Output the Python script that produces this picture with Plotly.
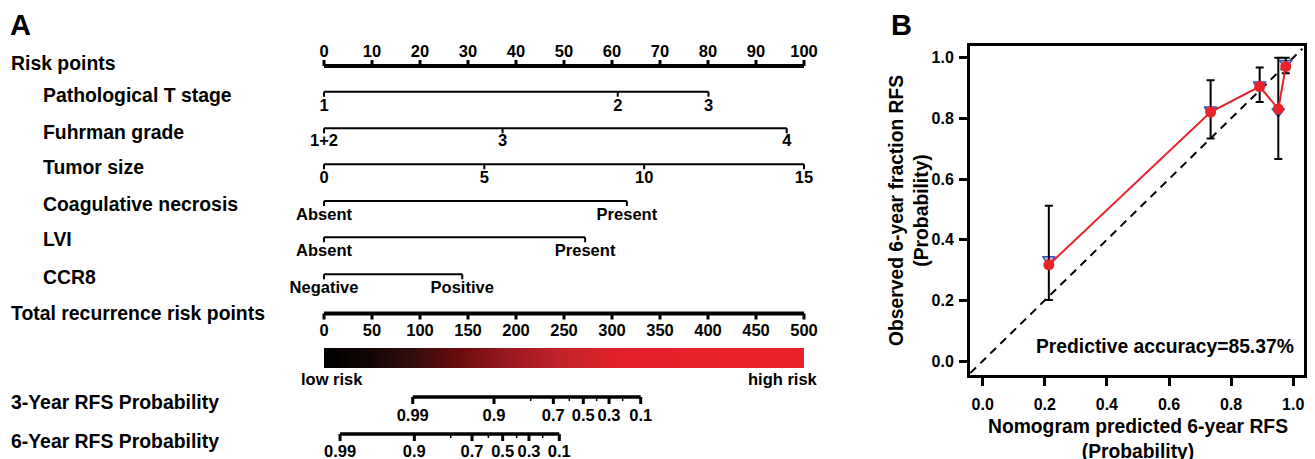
import numpy as np
import plotly.graph_objects as go

W, H = 1315, 459
OFF = 8  # page body margin of the html page (figure drawn 8px right/down)
FONT = "Liberation Sans, Arial, sans-serif"

# ---------------- Panel A data (nomogram) ----------------
risk_ticks = [0, 10, 20, 30, 40, 50, 60, 70, 80, 90, 100]
risk_labels = [str(v) for v in risk_ticks]

tstage_levels = ["1", "2", "3"]
tstage_pts = [0, 61.2, 80.1]
fuhrman_levels = ["1+2", "3", "4"]
fuhrman_pts = [0, 37.2, 96.4]
tumor_levels = ["0", "5", "10", "15"]
tumor_pts = [0, 33.4, 66.7, 100]
coag_levels = ["Absent", "Present"]
coag_pts = [0, 63.1]
lvi_levels = ["Absent", "Present"]
lvi_pts = [0, 54.4]
ccr8_levels = ["Negative", "Positive"]
ccr8_pts = [0, 28.8]

total_ticks = [0, 50, 100, 150, 200, 250, 300, 350, 400, 450, 500]
total_labels = [str(v) for v in total_ticks]

rfs3_labels = ["0.99", "0.9", "0.7", "0.5", "0.3", "0.1"]
rfs3_total = [92.4, 177.1, 238.9, 270.1, 296.9, 329.9]
rfs3_minor_total = [215.3, 255.5, 284.0, 311.1]
rfs6_labels = ["0.99", "0.9", "0.7", "0.5", "0.3", "0.1"]
rfs6_total = [16.7, 94.1, 154.2, 186.1, 213.5, 245.1]
rfs6_minor_total = [132.0, 171.2, 200.7, 227.8]

row_names = ["Risk points", "Pathological T stage", "Fuhrman grade", "Tumor size",
             "Coagulative necrosis", "LVI", "CCR8", "Total recurrence risk points",
             "3-Year RFS Probability", "6-Year RFS Probability"]

# ---------------- Panel B data (calibration) ----------------
pred = [0.213, 0.734, 0.892, 0.952, 0.976]
obs = [0.317, 0.821, 0.905, 0.831, 0.971]
obs_upper = [0.512, 0.926, 0.968, 1.0, 1.0]
obs_lower = [0.201, 0.734, 0.854, 0.666, 0.949]
tri_obs = [0.335, 0.828, 0.911, 0.823, 0.982]
ref_line = [-0.04, 1.03]
calib_ticks = [0.0, 0.2, 0.4, 0.6, 0.8, 1.0]

# ---------------- layout constants (page pixels) ----------------
PX0, PX_PER_PT = 324.0, 4.8            # points-axis origin and scale (page px)
A_RIGHT = 878.0
x_lo = (OFF - PX0) / PX_PER_PT
x_hi = (A_RIGHT - PX0) / PX_PER_PT


def px(xp):
    """page x pixel -> paper fraction"""
    return (xp - OFF) / W


fig = go.Figure()


def add_scale(pts, labels, y, xa, line_w, tick_len, tick_w, lab_dy, fsize,
              minor=None, minor_len=4, minor_w=1.5):
    common = dict(xaxis=xa, yaxis="y", hoverinfo="skip", showlegend=False)
    fig.add_trace(go.Scatter(x=[min(pts), max(pts)], y=[y, y], mode="lines",
                             line=dict(color="black", width=line_w), **common))
    tx, ty = [], []
    for p in pts:
        tx += [p, p, None]
        ty += [y, y + tick_len, None]
    fig.add_trace(go.Scatter(x=tx, y=ty, mode="lines",
                             line=dict(color="black", width=tick_w), **common))
    if minor:
        mx, my = [], []
        for p in minor:
            mx += [p, p, None]
            my += [y, y + minor_len, None]
        fig.add_trace(go.Scatter(x=mx, y=my, mode="lines",
                                 line=dict(color="black", width=minor_w), **common))
    fig.add_trace(go.Scatter(x=pts, y=[y + lab_dy] * len(pts), mode="text", text=labels,
                             textposition="middle center", cliponaxis=False,
                             textfont=dict(family=FONT, size=fsize, color="black", weight="bold"),
                             **common))


TF = 16.5
add_scale(risk_ticks, risk_labels, 66, "x", 4, -6, 3, -13.5, TF)
add_scale(tstage_pts, tstage_levels, 91.7, "x", 2, 5, 2, 15, TF)
add_scale(fuhrman_pts, fuhrman_levels, 128.3, "x", 2, 5, 2, 13.5, TF)
add_scale(tumor_pts, tumor_levels, 164.3, "x", 2, 5, 2, 14.5, TF)
add_scale(coag_pts, coag_levels, 201, "x", 2, 5, 2, 14.5, TF)
add_scale(lvi_pts, lvi_levels, 237.3, "x", 2, 5, 2, 14.5, TF)
add_scale(ccr8_pts, ccr8_levels, 274.3, "x", 2, 5, 2, 14.5, TF)
add_scale(total_ticks, total_labels, 313.5, "x3", 4, 6, 3, 18.5, TF)
add_scale(rfs3_total, rfs3_labels, 397, "x3", 3.5, 7, 3, 19.5, TF, minor=rfs3_minor_total)
add_scale(rfs6_total, rfs6_labels, 434, "x3", 3.5, 7, 3, 19, TF, minor=rfs6_minor_total)

# gradient bar
edges = np.linspace(total_ticks[0], total_ticks[-1], 201)
centers = (edges[:-1] + edges[1:]) / 2
fig.add_trace(go.Heatmap(
    x=edges, y=[348, 368], z=[centers], xaxis="x3", yaxis="y",
    zmin=total_ticks[0], zmax=total_ticks[-1], showscale=False, hoverinfo="skip",
    colorscale=[[0, "#000000"], [0.1, "#140505"], [0.2, "#3a0d0d"], [0.28, "#6c0b0d"],
                [0.4, "#9e1b20"], [0.5, "#c52329"], [0.62, "#e3212a"], [1, "#e8212a"]]))

# ---------------- Panel B ----------------
fig.add_trace(go.Scatter(x=ref_line, y=ref_line, mode="lines", xaxis="x2", yaxis="y2",
                         line=dict(color="black", width=2, dash="8px,6px"),
                         hoverinfo="skip", showlegend=False))
fig.add_trace(go.Scatter(x=pred, y=tri_obs, mode="markers", xaxis="x2", yaxis="y2",
                         marker=dict(symbol="triangle-down", size=11, color="#b9bddf",
                                     line=dict(color="#3f51b5", width=1.5)),
                         hoverinfo="skip", showlegend=False))
fig.add_trace(go.Scatter(
    x=pred, y=obs, mode="lines+markers", xaxis="x2", yaxis="y2",
    line=dict(color="#e8232a", width=2),
    marker=dict(symbol="circle", size=11, color="#e8232a"),
    error_y=dict(type="data", symmetric=False,
                 array=[u - o for u, o in zip(obs_upper, obs)],
                 arrayminus=[o - l for o, l in zip(obs, obs_lower)],
                 color="black", thickness=2, width=4),
    hoverinfo="skip", showlegend=False))

# page is visible only up to x~1307, so panel B is fitted inside that
BX0, BX1 = 970.0, 1303.5
BY_TOP, BY_BOT = 45.7, 375.0
X0PX, XPX = 982.7, 310.5
Y0PX, YPX = 361.0, 303.3
bx_range = [(BX0 - X0PX) / XPX, (BX1 - X0PX) / XPX]
by_range = [(Y0PX - BY_BOT) / YPX, (Y0PX - BY_TOP) / YPX]

tickfont = dict(family=FONT, size=16, color="black", weight="bold")

fig.update_layout(
    width=W, height=H, margin=dict(l=0, r=0, t=0, b=0),
    paper_bgcolor="white", plot_bgcolor="white",
    xaxis=dict(domain=[0, px(A_RIGHT)], range=[x_lo, x_hi], visible=False),
    xaxis3=dict(overlaying="x", anchor="y", range=[x_lo * 5, x_hi * 5], visible=False),
    yaxis=dict(domain=[0, 1], range=[H + OFF, OFF], visible=False),
    xaxis2=dict(domain=[px(BX0), px(BX1)], range=bx_range, anchor="y2",
                showline=True, mirror=True, linecolor="black", linewidth=3,
                ticks="outside", ticklen=8, tickwidth=3, tickcolor="black",
                tickvals=calib_ticks, ticktext=[f"{v:.1f}" for v in calib_ticks],
                tickfont=tickfont, ticklabelstandoff=5,
                showgrid=False, zeroline=False),
    yaxis2=dict(domain=[(H + OFF - BY_BOT) / H, (H + OFF - BY_TOP) / H], range=by_range,
                anchor="x2",
                showline=True, mirror=True, linecolor="black", linewidth=3,
                ticks="outside", ticklen=8, tickwidth=3, tickcolor="black",
                tickvals=calib_ticks, ticktext=[f"{v:.1f}" for v in calib_ticks],
                tickfont=tickfont, ticklabelstandoff=2,
                showgrid=False, zeroline=False),
)

# ---------------- annotations (text) ----------------
label_x = [9, 41, 41, 41, 41, 41, 41, 9, 9, 9]
label_y = [63, 95, 131.7, 167.3, 204, 239.3, 277.3, 313.3, 401.7, 440.7]
ann = []
for name, lx, ly in zip(row_names, label_x, label_y):
    ann.append(dict(text=name, x=px(lx), xref="paper", y=ly, yref="y",
                    xanchor="left", yanchor="middle", showarrow=False,
                    font=dict(family=FONT, size=19.4, color="black", weight="bold")))
ann.append(dict(text="low risk", x=px(299), xref="paper", y=379, yref="y",
                xanchor="left", yanchor="middle", showarrow=False,
                font=dict(family=FONT, size=16.5, color="black", weight="bold")))
ann.append(dict(text="high risk", x=px(820), xref="paper", y=379, yref="y",
                xanchor="right", yanchor="middle", showarrow=False,
                font=dict(family=FONT, size=16.5, color="black", weight="bold")))
ann.append(dict(text="A", x=px(8), xref="paper", y=25, yref="y",
                xanchor="left", yanchor="middle", showarrow=False,
                font=dict(family=FONT, size=29, color="black", weight="bold")))
ann.append(dict(text="B", x=px(889), xref="paper", y=25, yref="y",
                xanchor="left", yanchor="middle", showarrow=False,
                font=dict(family=FONT, size=29, color="black", weight="bold")))
ann.append(dict(text="Predictive accuracy=85.37%", x=px(1165), xref="paper", y=346, yref="y",
                xanchor="center", yanchor="middle", showarrow=False,
                font=dict(family=FONT, size=19.3, color="black", weight="bold")))
ann.append(dict(text="Nomogram predicted 6-year RFS<br>(Probability)", x=px(1138), xref="paper",
                y=438.5, yref="y", xanchor="center", yanchor="middle", showarrow=False,
                font=dict(family=FONT, size=19.3, color="black", weight="bold")))
ann.append(dict(text="Observed 6-year fraction RFS<br>(Probability)", x=px(909), xref="paper",
                y=211, yref="y", xanchor="center", yanchor="middle", showarrow=False,
                textangle=-90,
                font=dict(family=FONT, size=19.3, color="black", weight="bold")))
fig.update_layout(annotations=ann)

fig.write_html("out.html")
